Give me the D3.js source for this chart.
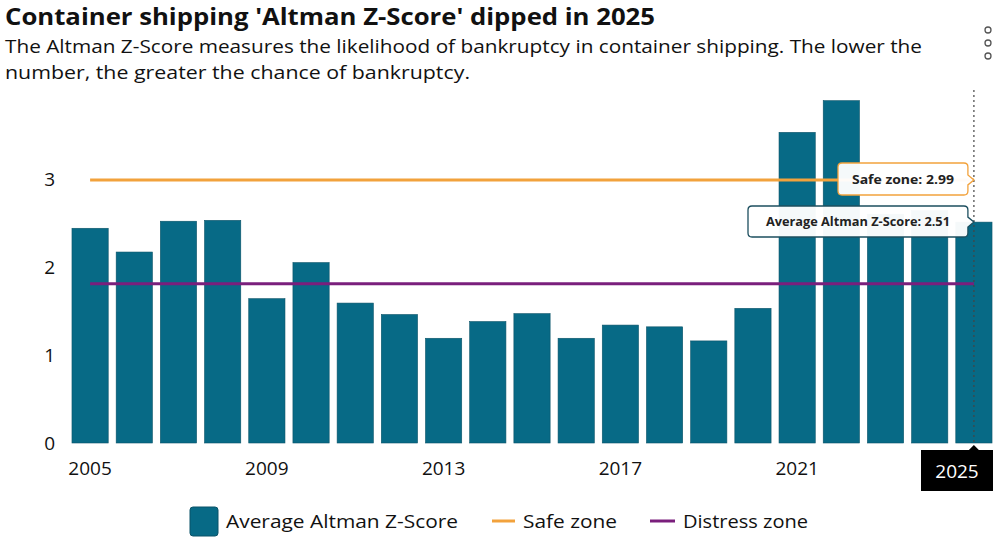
<!DOCTYPE html>
<html>
<head>
<meta charset="utf-8">
<script src="https://cdn.jsdelivr.net/npm/d3@7"></script>
<style>
  html, body { margin: 0; padding: 0; background: #fff; }
  svg { display: block; font-family: "Open Sans", "Noto Sans", sans-serif; }
</style>
</head>
<body>
<svg id="chart" width="1000" height="542"></svg>
<script>
const years = [2005,2006,2007,2008,2009,2010,2011,2012,2013,2014,2015,2016,2017,2018,2019,2020,2021,2022,2023,2024,2025];
const zScores = [2.44,2.17,2.52,2.53,1.64,2.05,1.59,1.46,1.19,1.38,1.47,1.19,1.34,1.32,1.16,1.53,3.53,3.89,2.60,2.64,2.51];
const safeZone = 2.99;
const distressZone = 1.81;
const yTicks = [0,1,2,3];
const xTickLabels = [2005,2009,2013,2017,2021];
const highlightYear = 2025;
const titleText = "Container shipping 'Altman Z-Score' dipped in 2025";
const subtitleLines = ["The Altman Z-Score measures the likelihood of bankruptcy in container shipping. The lower the",
                       "number, the greater the chance of bankruptcy."];
const legendLabels = ["Average Altman Z-Score", "Safe zone", "Distress zone"];

const barColor = "#076a86", safeColor = "#f2a23c", distressColor = "#7a1f7c";
const svg = d3.select("#chart");

// Title & subtitle
svg.append("text").attr("x", 5).attr("y", 25)
  .attr("font-size", 23).attr("font-weight", 700).attr("fill", "#111")
  .attr("textLength", 650).attr("lengthAdjust", "spacingAndGlyphs")
  .text(titleText);
const subW = [917, 465];
subtitleLines.forEach((l, i) => {
  svg.append("text").attr("x", 5).attr("y", 53 + i * 26)
    .attr("font-size", 19).attr("fill", "#111")
    .attr("textLength", subW[i]).attr("lengthAdjust", "spacingAndGlyphs")
    .text(l);
});
// menu dots
[30, 43, 56].forEach(cy => svg.append("circle").attr("cx", 988).attr("cy", cy).attr("r", 3)
  .attr("fill", "none").attr("stroke", "#555").attr("stroke-width", 1.3));

// Scales
const x = d3.scaleBand().domain(years).range([68, 996]).paddingInner(0.18).paddingOuter(0.09);
const y = d3.scaleLinear().domain([0, 4]).range([443, 91]);

// Y axis
const yAxis = svg.append("g").attr("transform", "translate(55,0)")
  .call(d3.axisLeft(y).tickValues(yTicks).tickFormat(d3.format("d")).tickSize(0).tickPadding(0));
yAxis.select(".domain").remove();
yAxis.selectAll("text").attr("font-size", 19).attr("fill", "#111")
  .attr("font-family", "'Open Sans', sans-serif");

// Bars
svg.append("g").selectAll("rect").data(years).join("rect")
  .attr("x", d => x(d)).attr("width", x.bandwidth())
  .attr("y", (d, i) => y(zScores[i])).attr("height", (d, i) => y(0) - y(zScores[i]))
  .attr("fill", barColor).attr("stroke", "#0b5368").attr("stroke-width", 0.6);

// Reference lines
const cx = d => x(d) + x.bandwidth() / 2;
const x0 = cx(years[0]), x1 = cx(years[years.length - 1]);
svg.append("line").attr("x1", x0).attr("x2", x1).attr("y1", y(safeZone)).attr("y2", y(safeZone))
  .attr("stroke", safeColor).attr("stroke-width", 3);
svg.append("line").attr("x1", x0).attr("x2", x1).attr("y1", y(distressZone)).attr("y2", y(distressZone))
  .attr("stroke", distressColor).attr("stroke-width", 3);

// Crosshair
const hx = cx(highlightYear);
svg.append("line").attr("x1", hx).attr("x2", hx).attr("y1", 90).attr("y2", y(0))
  .attr("stroke", "#444").attr("stroke-width", 1.2).attr("stroke-dasharray", "2,3");

// X axis
const xAxis = svg.append("g").attr("transform", `translate(0,${y(0)})`)
  .call(d3.axisBottom(x).tickValues(xTickLabels).tickSize(0).tickPadding(19));
xAxis.select(".domain").remove();
xAxis.selectAll("text").attr("font-size", 19).attr("fill", "#111")
  .attr("font-family", "'Open Sans', sans-serif");

// Highlighted 2025 label
const hb = { x: 921, y: 450, w: 72, h: 41 };
svg.append("path")
  .attr("d", `M${hb.x},${hb.y} H${hx - 5} L${hx},${hb.y - 5} L${hx + 5},${hb.y} H${hb.x + hb.w} V${hb.y + hb.h} H${hb.x} Z`)
  .attr("fill", "#000");
svg.append("text").attr("x", hb.x + hb.w / 2).attr("y", hb.y + 28).attr("text-anchor", "middle")
  .attr("font-size", 19).attr("fill", "#fff").text(String(highlightYear));

// Tooltips
function tooltip(label, value, yv, left, top, h, border, tl) {
  const right = hx - 6, mid = y(yv);
  const g = svg.append("g");
  g.append("path")
    .attr("d", `M${left + 4},${top} H${right - 4} Q${right},${top} ${right},${top + 4} V${mid - 5} L${hx},${mid} L${right},${mid + 5} V${top + h - 4} Q${right},${top + h} ${right - 4},${top + h} H${left + 4} Q${left},${top + h} ${left},${top + h - 4} V${top + 4} Q${left},${top} ${left + 4},${top} Z`)
    .attr("fill", "rgba(255,255,255,0.96)").attr("stroke", border).attr("stroke-width", 1.3);
  g.append("text").attr("x", (left + right) / 2).attr("y", top + h / 2 + 4.5).attr("text-anchor", "middle")
    .attr("font-size", 12.5).attr("font-weight", 700).attr("fill", "#222")
    .attr("textLength", tl).attr("lengthAdjust", "spacingAndGlyphs")
    .text(`${label}: ${value}`);
}
tooltip("Safe zone", safeZone.toFixed(2), safeZone, 838, 163, 32, safeColor, 102);
tooltip("Average Altman Z-Score", zScores[years.indexOf(highlightYear)].toFixed(2), zScores[years.indexOf(highlightYear)], 748, 206, 31, "#1d4f5f", 184);

// Legend
const lg = svg.append("g");
lg.append("rect").attr("x", 190).attr("y", 507).attr("width", 28).attr("height", 29).attr("rx", 3)
  .attr("fill", barColor).attr("stroke", "#0b5368");
lg.append("text").attr("x", 226).attr("y", 528).attr("font-size", 19).attr("fill", "#111")
  .attr("textLength", 232).attr("lengthAdjust", "spacingAndGlyphs").text(legendLabels[0]);
lg.append("line").attr("x1", 492).attr("x2", 515).attr("y1", 521).attr("y2", 521).attr("stroke", safeColor).attr("stroke-width", 3);
lg.append("text").attr("x", 523).attr("y", 528).attr("font-size", 19).attr("fill", "#111")
  .attr("textLength", 94).attr("lengthAdjust", "spacingAndGlyphs").text(legendLabels[1]);
lg.append("line").attr("x1", 650).attr("x2", 675).attr("y1", 521).attr("y2", 521).attr("stroke", distressColor).attr("stroke-width", 3);
lg.append("text").attr("x", 683).attr("y", 528).attr("font-size", 19).attr("fill", "#111")
  .attr("textLength", 125).attr("lengthAdjust", "spacingAndGlyphs").text(legendLabels[2]);
</script>
</body>
</html>
